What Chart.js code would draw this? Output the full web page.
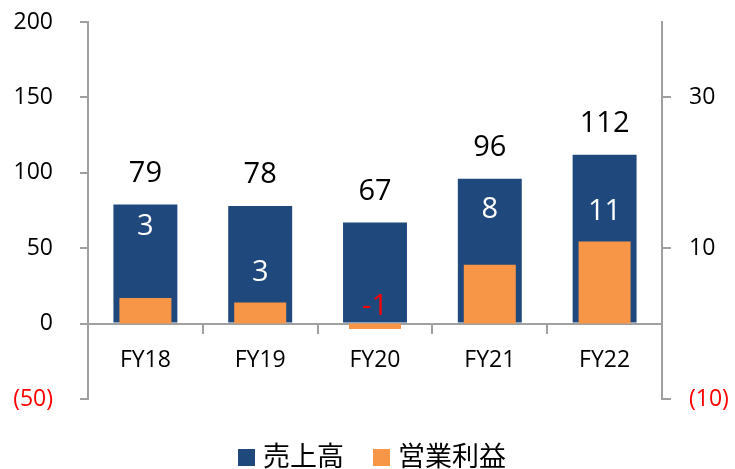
<!DOCTYPE html>
<html>
<head>
<meta charset="utf-8">
<script src="https://cdn.jsdelivr.net/npm/chart.js@4/dist/chart.umd.min.js"></script>
<style>
  html, body { margin: 0; padding: 0; background: #fff; }
  #wrap { position: relative; width: 735px; height: 469px; overflow: hidden; }
  #c { position: absolute; left: 0; top: 0; }
  #legend { position: absolute; left: 238px; top: 437px; height: 34px; display: flex; align-items: center;
            font-family: "Noto Sans CJK JP", sans-serif; font-size: 27px; color: #000; white-space: nowrap; }
  .item { display: flex; align-items: center; margin-right: 29px; }
  .box { width: 17px; height: 17px; margin-right: 8px; position: relative; top: 3px; }
</style>
</head>
<body>
<div id="wrap">
  <canvas id="c" width="735" height="469"></canvas>
  <div id="legend"></div>
</div>
<script>
// ---- data ----
const categories = ["FY18", "FY19", "FY20", "FY21", "FY22"];
const salesLabel = "売上高";
const profitLabel = "営業利益";
const sales = [79, 78, 67, 96, 112];
const profit = [3.4, 2.8, -0.7, 7.8, 10.9];
const leftTicks = [-50, 0, 50, 100, 150, 200];
const rightTicks = [-10, 10, 30];

// ---- style ----
const BLUE = "#1F497D";
const ORANGE = "#F79646";
const AXIS = "#A0A0A0";
const RED = "#FF0000";
const NUMFONT = "'Open Sans', 'Noto Sans', sans-serif";
const profitLabelLift = [71, 30, 17, 55, 30];

const fmt = v => v < 0 ? "(" + Math.abs(v) + ")" : String(v);

const labelPlugin = {
  id: "barLabels",
  afterDatasetsDraw(chart) {
    const ctx = chart.ctx;
    ctx.save();
    ctx.textAlign = "center";
    ctx.textBaseline = "middle";
    const sMeta = chart.getDatasetMeta(0);
    ctx.font = "29px " + NUMFONT;
    ctx.fillStyle = "#000";
    sMeta.data.forEach((bar, i) => {
      ctx.fillText(String(Math.round(sales[i])), bar.x, bar.y - 31);
    });
    const pMeta = chart.getDatasetMeta(1);
    pMeta.data.forEach((bar, i) => {
      const v = profit[i];
      const anchor = v < 0 ? bar.base : bar.y;
      ctx.fillStyle = v < 0 ? RED : "#fff";
      ctx.fillText(String(Math.round(v)), bar.x, anchor - profitLabelLift[i]);
    });
    ctx.restore();
  }
};

const chart = new Chart(document.getElementById("c"), {
  type: "bar",
  data: {
    labels: categories,
    datasets: [
      { label: salesLabel, data: sales, backgroundColor: BLUE, yAxisID: "y", order: 1,
        grouped: false, barPercentage: 0.557, categoryPercentage: 1 },
      { label: profitLabel, data: profit, backgroundColor: ORANGE, yAxisID: "y2", order: 0,
        grouped: false, barPercentage: 0.453, categoryPercentage: 1 }
    ]
  },
  options: {
    responsive: false,
    animation: false,
    events: [],
    layout: { padding: { top: 22, bottom: 70, left: 0, right: 0 } },
    plugins: { legend: { display: false }, tooltip: { enabled: false } },
    scales: {
      x: {
        position: { y: 0 },
        afterFit: s => { s.height = 0; s.paddingLeft = 0; s.paddingRight = 0; },
        grid: { drawOnChartArea: false, drawTicks: true, tickLength: 9, color: AXIS, lineWidth: 2, offset: true },
        border: { color: AXIS, width: 2 },
        ticks: { color: "#000", font: { family: NUMFONT, size: 23 }, padding: 14 }
      },
      y: {
        position: "left",
        min: -50, max: 200,
        afterBuildTicks: s => { s.ticks = leftTicks.map(v => ({ value: v })); },
        afterFit: s => { s.width = 88; s.paddingTop = 0; s.paddingBottom = 0; },
        grid: { drawOnChartArea: false, drawTicks: true, tickLength: 8, color: AXIS, lineWidth: 2 },
        border: { color: AXIS, width: 2 },
        ticks: {
          padding: 27,
          font: { family: NUMFONT, size: 23 },
          color: c => c.tick && c.tick.value < 0 ? RED : "#000",
          callback: v => fmt(v)
        }
      },
      y2: {
        position: "right",
        min: -10, max: 40,
        afterBuildTicks: s => { s.ticks = rightTicks.map(v => ({ value: v })); },
        afterFit: s => { s.width = 73; s.paddingTop = 0; s.paddingBottom = 0; },
        grid: { drawOnChartArea: false, drawTicks: true, tickLength: 9, color: AXIS, lineWidth: 2 },
        border: { color: AXIS, width: 2 },
        ticks: {
          padding: 18,
          font: { family: NUMFONT, size: 23 },
          color: c => c.tick && c.tick.value < 0 ? RED : "#000",
          callback: v => fmt(v)
        }
      }
    }
  },
  plugins: [labelPlugin]
});

// HTML legend built from datasets
const lg = document.getElementById("legend");
chart.data.datasets.forEach(ds => {
  const it = document.createElement("div");
  it.className = "item";
  const b = document.createElement("div");
  b.className = "box";
  b.style.background = ds.backgroundColor;
  const t = document.createElement("span");
  t.textContent = ds.label;
  it.appendChild(b); it.appendChild(t);
  lg.appendChild(it);
});
</script>
</body>
</html>
